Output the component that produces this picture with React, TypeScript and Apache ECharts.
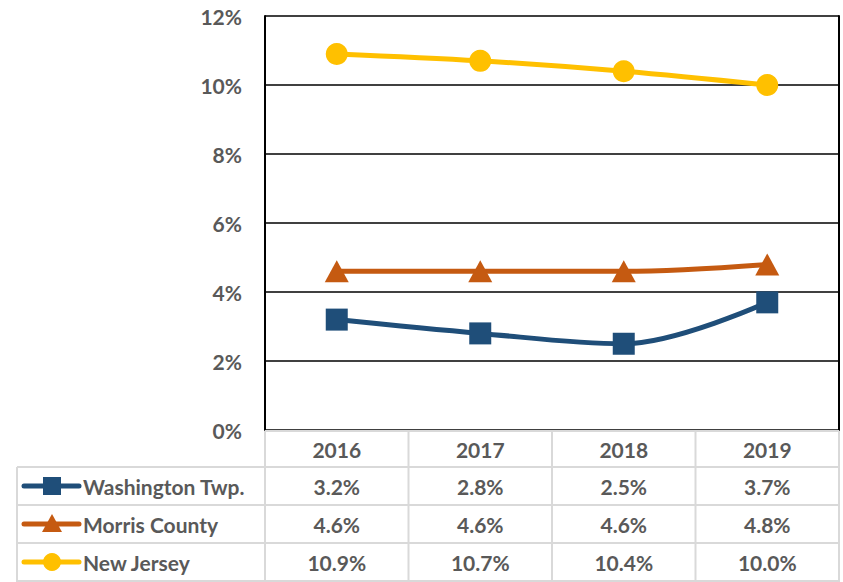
import React, { useEffect, useRef } from "react";
import * as echarts from "echarts";

const years = ["2016", "2017", "2018", "2019"];
const seriesNames = ["Washington Twp.", "Morris County", "New Jersey"];
const washington = [3.2, 2.8, 2.5, 3.7];
const morris = [4.6, 4.6, 4.6, 4.8];
const newJersey = [10.9, 10.7, 10.4, 10.0];
const colors = ["#1F4E79", "#C55A11", "#FFC000"];
const symbols = ["rect", "triangle", "circle"];

const W = 843;
const H = 582;
const PLOT_L = 265;
const PLOT_R = 839;
const PLOT_T = 16;
const PLOT_B = 430;
const TABLE_L = 17;
const ROW_H = 38;
const HEADER_B = 467;
const FONT = "Lato, 'Open Sans', sans-serif";
const FS = 21;
const TXT = "#595959";
const GRIDC = "#D9D9D9";

export default function App() {
  const ref = useRef<HTMLDivElement>(null);
  useEffect(() => {
    if (!ref.current) return;
    const chart = echarts.init(ref.current, undefined, { renderer: "svg" });
    const allSeries = [washington, morris, newJersey];
    const colW = (PLOT_R - PLOT_L) / years.length;
    const graphics: any[] = [];
    const hl = (x1: number, x2: number, y: number) =>
      graphics.push({ type: "line", shape: { x1, y1: y, x2, y2: y }, style: { stroke: GRIDC, lineWidth: 2 }, z: 1 });
    const vl = (x: number, y1: number, y2: number) =>
      graphics.push({ type: "line", shape: { x1: x, y1, x2: x, y2 }, style: { stroke: GRIDC, lineWidth: 2 }, z: 1 });
    hl(PLOT_L, PLOT_R, PLOT_B + 1);
    for (let i = 0; i <= seriesNames.length; i++) hl(TABLE_L, PLOT_R, HEADER_B + i * ROW_H);
    vl(TABLE_L, HEADER_B, H);
    for (let j = 0; j <= years.length; j++) vl(PLOT_L + j * colW, PLOT_B + 1, H);
    years.forEach((y, j) => {
      graphics.push({
        type: "text",
        x: PLOT_L + (j + 0.5) * colW,
        y: (PLOT_B + HEADER_B) / 2 + 1,
        style: { text: y, fill: TXT, font: `bold ${FS}px ${FONT}`, align: "center", verticalAlign: "middle" },
        z: 2,
      });
    });
    seriesNames.forEach((name, i) => {
      const cy = HEADER_B + (i + 0.5) * ROW_H;
      graphics.push({
        type: "line",
        shape: { x1: 24, y1: cy, x2: 79, y2: cy },
        style: { stroke: colors[i], lineWidth: 5, lineCap: "round" },
        z: 2,
      });
      if (symbols[i] === "rect") {
        graphics.push({ type: "rect", shape: { x: 52 - 9, y: cy - 9, width: 18, height: 18 }, style: { fill: colors[i] }, z: 3 });
      } else if (symbols[i] === "triangle") {
        graphics.push({
          type: "polygon",
          shape: { points: [[52, cy - 10], [62, cy + 8], [42, cy + 8]] },
          style: { fill: colors[i] },
          z: 3,
        });
      } else {
        graphics.push({ type: "circle", shape: { cx: 52, cy, r: 9 }, style: { fill: colors[i] }, z: 3 });
      }
      graphics.push({
        type: "text",
        x: 83,
        y: cy,
        style: { text: name, fill: TXT, font: `bold ${FS}px ${FONT}`, align: "left", verticalAlign: "middle" },
        z: 2,
      });
      allSeries[i].forEach((v, j) => {
        graphics.push({
          type: "text",
          x: PLOT_L + (j + 0.5) * colW,
          y: cy,
          style: { text: v.toFixed(1) + "%", fill: TXT, font: `bold ${FS}px ${FONT}`, align: "center", verticalAlign: "middle" },
          z: 2,
        });
      });
    });

    chart.setOption({
      animation: false,
      backgroundColor: "#ffffff",
      grid: { left: PLOT_L, right: W - PLOT_R, top: PLOT_T, bottom: H - PLOT_B, containLabel: false },
      xAxis: {
        type: "category",
        data: years,
        boundaryGap: true,
        axisLine: { show: false },
        axisTick: { show: false },
        axisLabel: { show: false },
      },
      yAxis: [
        {
          type: "value",
          min: 0,
          max: 12,
          interval: 2,
          axisLine: { show: true, lineStyle: { color: "#000", width: 2 } },
          axisTick: { show: false },
          axisLabel: {
            formatter: (v: number) => v + "%",
            color: TXT,
            fontFamily: FONT,
            fontWeight: "bold",
            fontSize: FS,
            margin: 23,
          },
          splitLine: { show: true, lineStyle: { color: "#000", width: 1.5 } },
        },
        {
          type: "value",
          position: "right",
          min: 0,
          max: 12,
          interval: 2,
          axisLine: { show: true, lineStyle: { color: "#000", width: 2 } },
          axisTick: { show: false },
          axisLabel: { show: false },
          splitLine: { show: false },
        },
      ],
      series: allSeries.map((d, i) => ({
        name: seriesNames[i],
        type: "line",
        data: d,
        smooth: 0.35,
        symbol: symbols[i],
        symbolSize: symbols[i] === "triangle" ? [24, 22] : 22,
        lineStyle: { color: colors[i], width: 5 },
        itemStyle: { color: colors[i] },
        z: 5,
      })),
      graphic: graphics,
    });
    return () => chart.dispose();
  }, []);
  return <div ref={ref} style={{ width: W, height: H, position: "absolute", left: 0, top: 0 }} />;
}
